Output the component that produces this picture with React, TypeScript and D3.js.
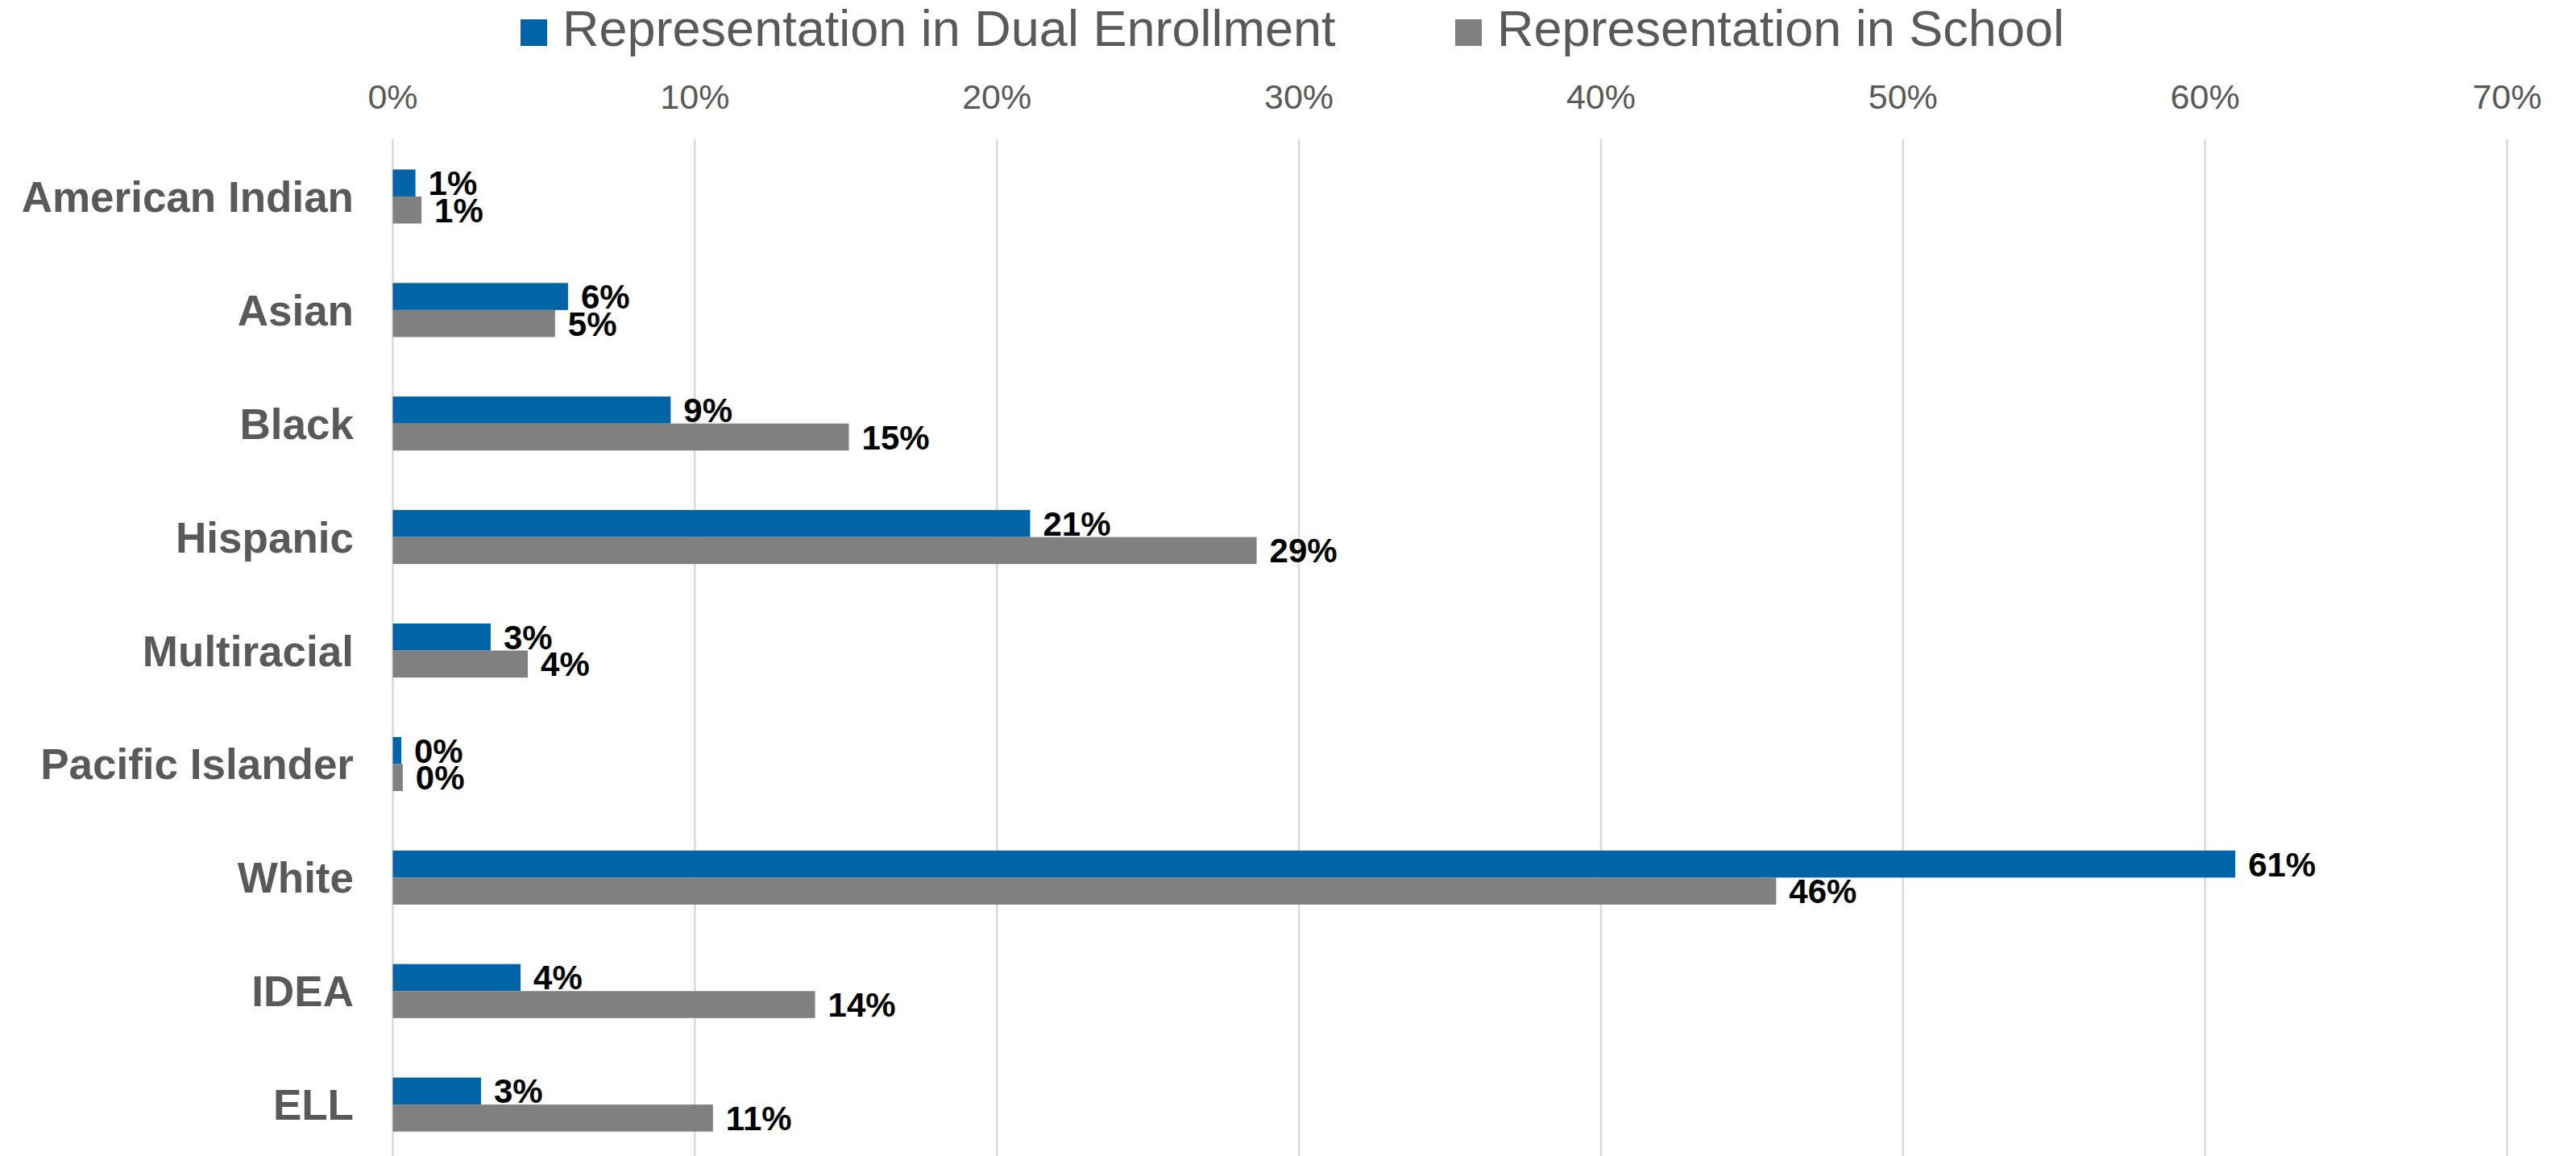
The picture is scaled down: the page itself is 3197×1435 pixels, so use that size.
import React from "react";
import * as d3 from "d3";

const categories = [
  "American Indian",
  "Asian",
  "Black",
  "Hispanic",
  "Multiracial",
  "Pacific Islander",
  "White",
  "IDEA",
  "ELL",
];
const dualEnrollment = [0.0075, 0.058, 0.092, 0.211, 0.0324, 0.0028, 0.61, 0.0423, 0.0292];
const school = [0.0095, 0.0537, 0.151, 0.286, 0.0447, 0.0033, 0.458, 0.1398, 0.106];
const seriesNames = ["Representation in Dual Enrollment", "Representation in School"];
const seriesColors = ["#0064A7", "#808080"];
const xTicks = [0, 0.1, 0.2, 0.3, 0.4, 0.5, 0.6, 0.7];

const W = 3197;
const H = 1435;
const FONT = "'Liberation Sans', Arial, Helvetica, sans-serif";

export default function App() {
  const x = d3.scaleLinear().domain([0, 0.7]).range([487.5, 3111.5]);
  const y = d3
    .scaleBand<string>()
    .domain(categories)
    .range([173.5, 173.5 + 9 * 140.9])
    .paddingInner(0.524)
    .paddingOuter(0.262);
  const inner = d3
    .scaleBand<string>()
    .domain(seriesNames)
    .range([0, y.bandwidth()])
    .padding(0);
  const pct = d3.format(".0%");
  const seriesData = [dualEnrollment, school];

  return (
    <svg
      width={W}
      height={H}
      style={{ position: "absolute", left: 0, top: 0, display: "block", background: "#fff" }}
      fontFamily={FONT}
    >
      <rect x={0} y={0} width={W} height={H} fill="#fff" />
      {/* gridlines */}
      {xTicks.map((t) => (
        <line
          key={"g" + t}
          x1={x(t)}
          x2={x(t)}
          y1={173}
          y2={H}
          stroke="#d9d9d9"
          strokeWidth={2.5}
        />
      ))}
      {/* tick labels */}
      {xTicks.map((t) => (
        <text
          key={"t" + t}
          x={x(t)}
          y={135}
          textAnchor="middle"
          fontSize={43}
          fill="#595959"
        >
          {pct(t)}
        </text>
      ))}
      {/* legend */}
      {seriesNames.map((s, i) => {
        const lx = i === 0 ? 646 : 1806;
        return (
          <g key={"l" + s}>
            <rect x={lx} y={24} width={33} height={33} fill={seriesColors[i]} />
            <text x={lx + 52} y={57} fontSize={63} fill="#595959">
              {s}
            </text>
          </g>
        );
      })}
      {/* category labels */}
      {categories.map((c) => (
        <text
          key={"c" + c}
          x={439}
          y={(y(c) as number) + y.bandwidth() / 2 + 19}
          textAnchor="end"
          fontSize={53}
          fontWeight="bold"
          fill="#595959"
        >
          {c}
        </text>
      ))}
      {/* bars */}
      {seriesData.map((vals, si) =>
        categories.map((c, ci) => {
          const by = (y(c) as number) + (inner(seriesNames[si]) as number);
          const bh = inner.bandwidth();
          const v = vals[ci];
          return (
            <g key={"b" + si + "-" + ci}>
              <rect x={x(0)} y={by} width={x(v) - x(0)} height={bh} fill={seriesColors[si]} />
              <text
                x={x(v) + 16}
                y={by + bh / 2 + 15}
                fontSize={42}
                fontWeight="bold"
                fill="#000"
              >
                {pct(v)}
              </text>
            </g>
          );
        })
      )}
    </svg>
  );
}
